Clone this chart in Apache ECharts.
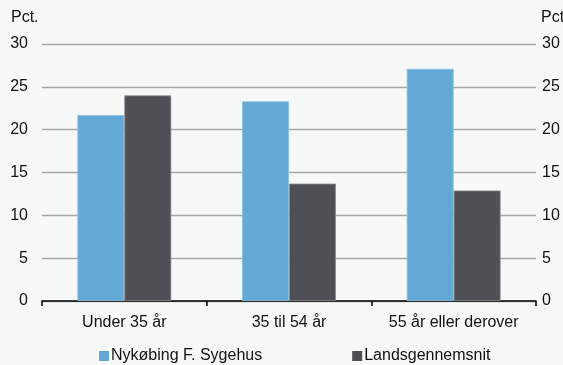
<!DOCTYPE html>
<html><head><meta charset="utf-8">
<script src="https://cdn.jsdelivr.net/npm/echarts@6/dist/echarts.min.js"></script>
<style>html,body{margin:0;padding:0;background:#F7F8F8;}#c{width:563px;height:365px;}</style>
</head><body><div id="c"></div>
<script>
const categories = ['Under 35 år', '35 til 54 år', '55 år eller derover'];
const nykobing = [21.7, 23.3, 27.1];
const landsgennemsnit = [24.0, 13.7, 12.9];
const seriesNames = ['Nykøbing F. Sygehus', 'Landsgennemsnit'];
const unit = 'Pct.';

const chart = echarts.init(document.getElementById('c'), null, {renderer: 'canvas'});
const font = 'Arial, "Liberation Sans", sans-serif';
chart.setOption({
  backgroundColor: '#F7F8F8',
  animation: false,
  textStyle: {fontFamily: font},
  grid: {left: 42, right: 27, top: 44, bottom: 64},
  legend: {
    top: 343, left: 94, itemWidth: 10, itemHeight: 10, itemGap: 90,
    icon: 'rect',
    itemStyle: {borderWidth: 0},
    textStyle: {fontSize: 16, color: '#111', fontFamily: font, padding: [0, 0, 0, -3]},
    data: seriesNames
  },
  graphic: [
    {type: 'text', left: 11, top: 10, style: {text: unit, fontSize: 16, fill: '#111', fontFamily: font}},
    {type: 'text', left: 541, top: 10, style: {text: unit, fontSize: 16, fill: '#111', fontFamily: font}}
  ],
  xAxis: {
    type: 'category', data: categories,
    axisLine: {lineStyle: {color: '#000', width: 1.5}},
    axisTick: {show: true, interval: 0, length: 5, lineStyle: {color: '#000', width: 1.5}},
    axisLabel: {interval: 0, fontSize: 16, color: '#111', margin: 14, fontFamily: font}
  },
  yAxis: [
    {type: 'value', min: 0, max: 30, interval: 5, position: 'left',
     axisLine: {show: false}, axisTick: {show: false},
     axisLabel: {fontSize: 16, color: '#111', margin: 14, fontFamily: font},
     splitLine: {lineStyle: {color: '#A6A6A6', width: 1.3}}},
    {type: 'value', min: 0, max: 30, interval: 5, position: 'right',
     axisLine: {show: false}, axisTick: {show: false},
     axisLabel: {fontSize: 16, color: '#111', margin: 6, fontFamily: font},
     splitLine: {show: false}}
  ],
  series: [
    {name: seriesNames[0], type: 'bar', data: nykobing, barGap: '0%', barCategoryGap: '43%',
     itemStyle: {color: '#63A9D5', borderColor: '#8CC2E4', borderWidth: 0.8}},
    {name: seriesNames[1], type: 'bar', data: landsgennemsnit, barGap: '0%', barCategoryGap: '43%',
     itemStyle: {color: '#4F5056', borderColor: '#8A8B8F', borderWidth: 0.8}}
  ]
});
</script></body></html>
